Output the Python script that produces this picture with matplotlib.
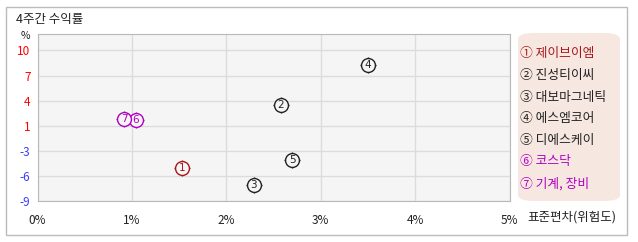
import numpy as np
import matplotlib
matplotlib.use("Agg")
from matplotlib import pyplot as plt
from matplotlib.patches import Rectangle, FancyBboxPatch

plt.rcParams['font.family'] = ['Noto Sans CJK KR', 'DejaVu Sans']

# data
names = ["제이브이엠", "진성티이씨", "대보마그네틱", "에스엠코어", "디에스케이", "코스닥", "기계, 장비"]
marks = ["①", "②", "③", "④", "⑤", "⑥", "⑦"]
std_dev = [1.53, 2.58, 2.29, 3.50, 2.70, 1.04, 0.92]     # 표준편차 (%)
ret_4w = [-4.8, 3.1, -6.9, 8.2, -3.8, 1.2, 1.4]         # 4주간 수익률 (%)
colors = ["#a8161c", "#222222", "#222222", "#222222", "#222222", "#b000c0", "#b000c0"]

x_ticks = [0, 1, 2, 3, 4, 5]
x_tick_labels = ["0%", "1%", "2%", "3%", "4%", "5%"]
y_tick_labels = [-9, -6, -3, 1, 4, 7, 10]
y_min, y_max = -9, 10

W, H = 638, 242
fig = plt.figure(figsize=(W / 100, H / 100), dpi=100)

# outer frame
fig.patches.append(Rectangle((6 / W, 1 - 235 / H), 620.5 / W, 228 / H, transform=fig.transFigure,
                             fill=False, edgecolor="#bbbbbb", lw=1))

ax = fig.add_axes([37.5 / W, 1 - 201.3 / H, 472 / W, 167 / H])
ax.set_facecolor("#f5f5f5")
for s in ax.spines.values():
    s.set_color("#b8b8b8")

y_ticks = np.linspace(y_min, y_max, len(y_tick_labels))
step = y_ticks[1] - y_ticks[0]
ax.set_xlim(0, 5)
ax.set_ylim(y_min, y_max + 0.64 * step)
ax.set_xticks(x_ticks)
ax.set_xticklabels(x_tick_labels, fontsize=8.5, color="#222222")
ax.set_yticks(y_ticks)
ax.set_yticklabels([str(v) for v in y_tick_labels], fontsize=8.5)
for lab, v in zip(ax.get_yticklabels(), y_tick_labels):
    lab.set_color("#ff0000" if v > 0 else "#3c3cff")
ax.tick_params(length=0, pad=5)
ax.tick_params(axis="x", pad=9)
ax.grid(color="#dcdcdc", lw=1)
ax.set_axisbelow(True)

for x, y, m, c in zip(std_dev, ret_4w, marks, colors):
    ax.plot(x, y, marker="+", ms=11, mew=1, color=c, zorder=3)
    ax.plot(x, y, marker="o", ms=10, mew=1, mfc="#f5f5f5", mec=c, zorder=4)
    ax.text(x, y, str(marks.index(m) + 1), fontsize=7.5, color=c, ha="center", va="center",
            family="DejaVu Sans", zorder=5)

fig.text(16 / W, 1 - 20 / H, "4주간 수익률", fontsize=9, color="#222222", va="center")
fig.text(25 / W, 1 - 36 / H, "%", fontsize=7.5, color="#222222", ha="center", va="center")
fig.text(527 / W, 1 - 217 / H, "표준편차(위험도)", fontsize=9, color="#222222", va="center")

# legend box
fig.patches.append(FancyBboxPatch((518 / W, 1 - 201 / H), 102 / W, 168 / H, transform=fig.transFigure,
                                  boxstyle="round,pad=0,rounding_size=0.025",
                                  facecolor="#f6e8e1", edgecolor="none"))
for i, (m, n, c) in enumerate(zip(marks, names, colors)):
    yy = 1 - (54 + i * 21.6) / H
    fig.text(520 / W, yy, m + " " + n, fontsize=9.2, color=c, va="center")

fig.savefig("out.png", dpi=100)
